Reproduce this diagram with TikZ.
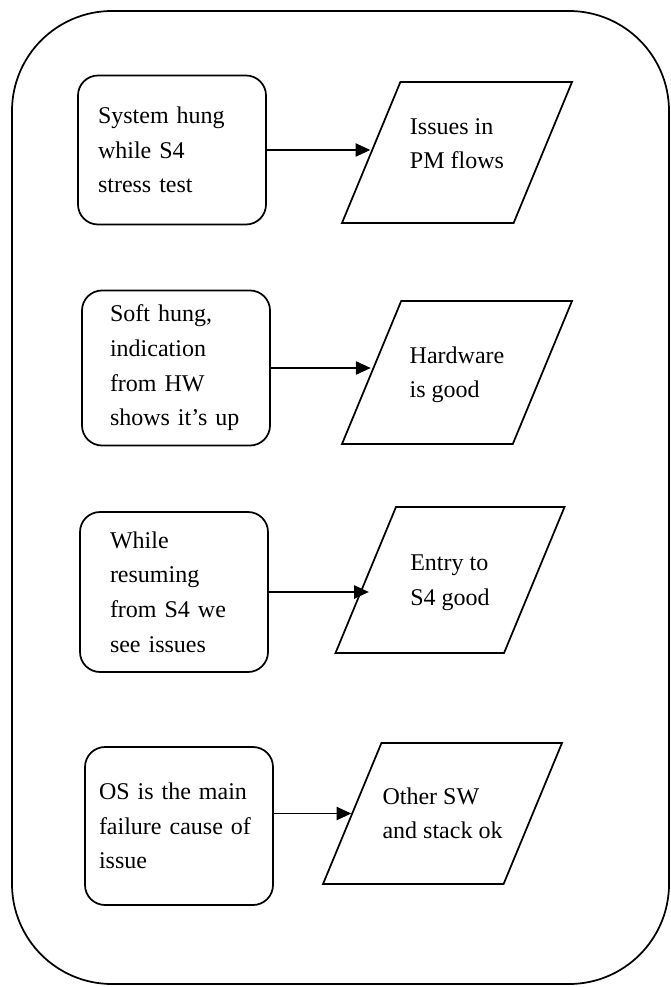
\documentclass[tikz,border=0pt]{standalone}
\usepackage{fontspec}
\setmainfont{Liberation Serif}
\usetikzlibrary{arrows.meta, shapes.geometric}

\begin{document}
\begin{tikzpicture}[x=0.75pt, y=-0.75pt, >={Triangle[length=11pt, width=10pt]},
  cause/.style={draw, line width=1.3pt, rounded corners=15pt, align=left,
    inner ysep=0pt, font=\fontsize{18pt}{26pt}\selectfont},
  result/.style={draw, line width=1.3pt, shape=trapezium,
    trapezium left angle=67.5, trapezium right angle=112.5,
    trapezium stretches body, inner sep=0pt, align=left,
    font=\fontsize{18pt}{26pt}\selectfont},
  flow/.style={->, line width=0.8pt}]
  \useasboundingbox (0,0) rectangle (670,987);
  % Outer frame
  \draw[line width=1.3pt, rounded corners=75pt] (12,11) rectangle (669,984);
  % Observations
  \node[cause, text width=111pt, inner xsep=15pt, minimum height=111.75pt] (hang) at (172,150)
    {System hung\\ while S4\\ stress test};
  \node[cause, text width=99pt, inner xsep=21pt, minimum height=116.25pt] (soft) at (176,368)
    {Soft hung,\\ indication\\ from HW\\ shows it's up};
  \node[cause, text width=96pt, inner xsep=22.5pt, minimum height=120pt] (resume) at (174,592)
    {While\\ resuming\\ from S4 we\\ see issues};
  \node[cause, text width=120pt, inner xsep=10.5pt, minimum height=118.5pt] (os) at (179,826)
    {OS is the main\\ failure cause of\\ issue};
  % Conclusions
  \node[result, minimum width=172.5pt, text height=65.1pt, text depth=40.6pt] (pm) at (457,152.5)
    {Issues in\\ PM flows};
  \node[result, minimum width=172.5pt, text height=72.6pt, text depth=34.6pt] (hw) at (457,372.5)
    {Hardware\\ is good};
  \node[result, minimum width=171.75pt, text height=73.75pt, text depth=35.75pt] (entry) at (450,580)
    {Entry to\\ S4 good};
  \node[result, minimum width=179.25pt, text height=71.9pt, text depth=33.9pt] (stack) at (442.5,813.5)
    {Other SW\\ and stack ok};
  % Arrows
  \draw[flow] (hang.east) -- (hang.east -| pm.west);
  \draw[flow] (soft.east) -- (soft.east -| hw.west);
  \draw[flow] (resume.east) -- ([xshift=3pt]resume.east -| entry.west);
  \draw[flow] (stack.west -| os.east) -- (stack.west);
\end{tikzpicture}
\end{document}
